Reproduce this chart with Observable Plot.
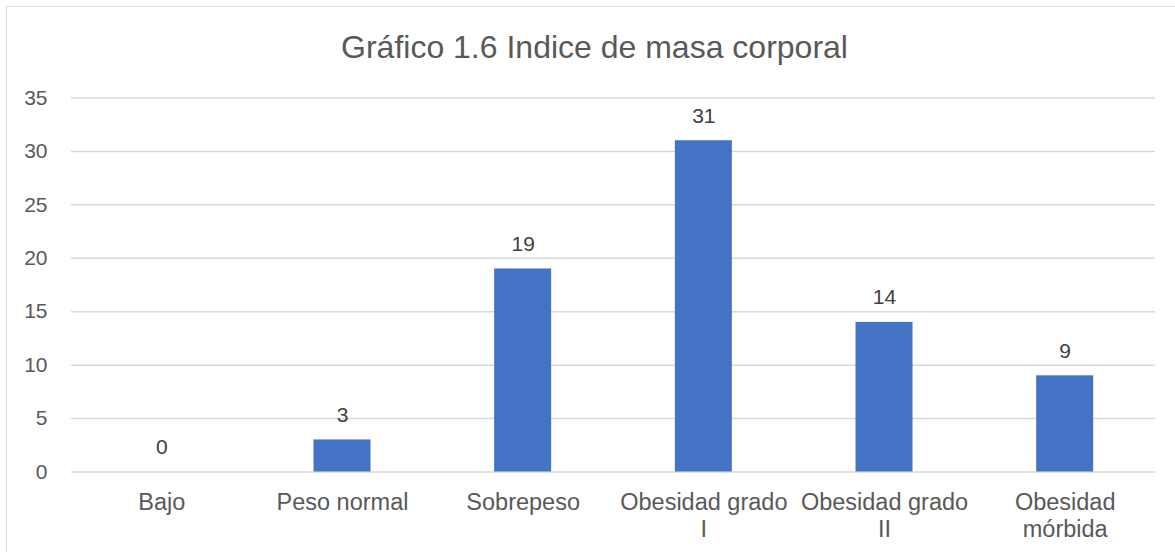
<!DOCTYPE html>
<html>
<head>
<meta charset="utf-8">
<script src="https://cdn.jsdelivr.net/npm/d3@7"></script>
<script src="https://cdn.jsdelivr.net/npm/@observablehq/plot@0.6"></script>
<style>
  html, body { margin: 0; padding: 0; background: #fff; overflow: hidden; }
  #wrap { position: relative; width: 1175px; height: 552px; overflow: hidden; background: #fff; }
  #frame { position: absolute; left: 6px; top: 6px; width: 1300px; height: 700px; border: 1.5px solid #d9d9d9; box-sizing: border-box; pointer-events: none; }
  #title { position: relative; width: 1175px; height: 75px; box-sizing: border-box; padding-top: 31px; padding-left: 14px;
           text-align: center; font-family: "Liberation Sans", Arial, sans-serif; font-size: 32px; line-height: 32px; color: #595959; }
  #chart { position: relative; }
</style>
</head>
<body>
<div id="wrap">
  <div id="frame"></div>
  <div id="title">Gráfico 1.6 Indice de masa corporal</div>
  <div id="chart"></div>
</div>
<script>
const categories = ["Bajo", "Peso normal", "Sobrepeso", "Obesidad grado I", "Obesidad grado II", "Obesidad mórbida"];
const values = [0, 3, 19, 31, 14, 9];
const tickLabels = ["Bajo", "Peso normal", "Sobrepeso", "Obesidad grado\nI", "Obesidad grado\nII", "Obesidad\nmórbida"];
const yTicks = [0, 5, 10, 15, 20, 25, 30, 35];

const data = categories.map((c, i) => ({category: c, value: values[i]}));
const labelOf = new Map(categories.map((c, i) => [c, tickLabels[i]]));

const chart = Plot.plot({
  width: 1175,
  height: 477,
  marginLeft: 71,
  marginRight: 20,
  marginTop: 22.5,
  marginBottom: 80.5,
  style: {fontFamily: "Liberation Sans, Arial, sans-serif", background: "transparent", color: "#595959"},
  x: {domain: categories, paddingInner: 0.6845, paddingOuter: 0.342, align: 0.5, round: false},
  y: {domain: [0, 35]},
  marks: [
    Plot.gridY(yTicks, {stroke: "#d9d9d9", strokeOpacity: 1, strokeWidth: 1.5}),
    Plot.axisY(yTicks, {tickSize: 0, tickPadding: 24, fontSize: 21, fill: "#595959", label: null}),
    Plot.axisX({tickSize: 0, tickPadding: 19, fontSize: 23.5, fill: "#595959", label: null,
                lineHeight: 1.15, tickFormat: d => labelOf.get(d)}),
    Plot.barY(data, {x: "category", y: "value", fill: "#4472C4"}),
    Plot.text(data, {x: "category", y: "value", text: d => String(d.value), dy: -18, lineAnchor: "bottom",
                     fontSize: 21, fill: "#404040"})
  ]
});
document.getElementById("chart").appendChild(chart);
</script>
</body>
</html>
